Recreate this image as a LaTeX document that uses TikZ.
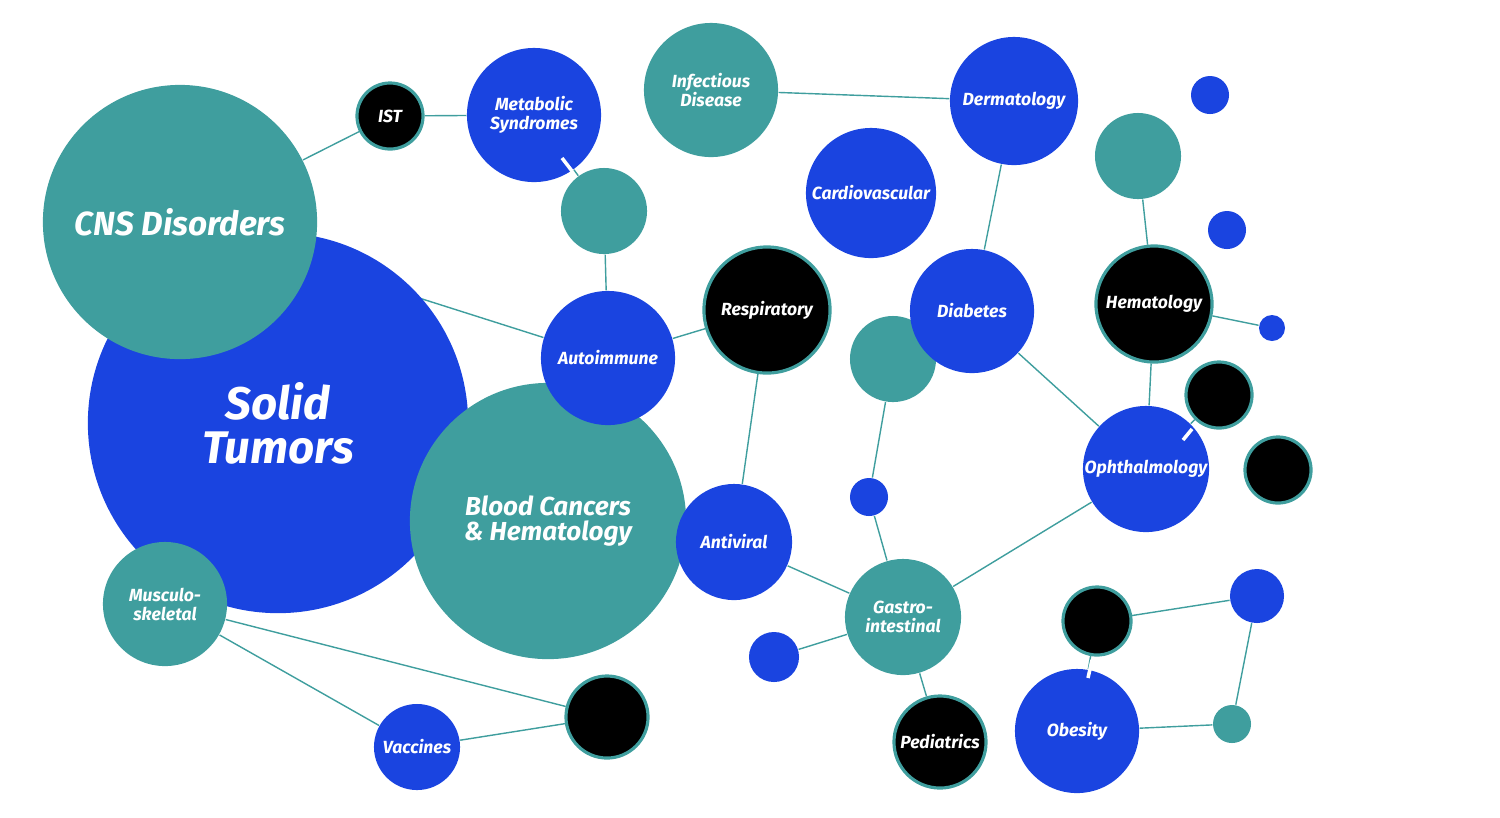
\documentclass[tikz,border=0pt]{standalone}
\usepackage{fontspec}
\setmainfont{Fira Sans}
\usetikzlibrary{backgrounds}
\definecolor{tl}{HTML}{3F9E9E}
\definecolor{bl}{HTML}{1A44E0}
\begin{document}
\begin{tikzpicture}[x=0.01cm,y=-0.01cm,
  c/.style={circle,inner sep=0pt,minimum size=#1*0.02cm,text=white,align=center,font=\fontsize{5}{5.4}\selectfont\bfseries\itshape},
  T/.style={c=#1,fill=tl},
  B/.style={c=#1,fill=bl},
  K/.style={c=#1,fill=black,draw=tl,line width=0.9pt},
  e/.style={draw=tl,line width=0.4pt},
  w/.style={draw=white,line width=1pt}]
\useasboundingbox (0,0) rectangle (1500,817);
\node[B=190,font=\fontsize{13}{12.5}\selectfont\bfseries\itshape] (solid) at (278,423) {Solid\\Tumors};
\node[T=137,font=\fontsize{9.5}{10}\selectfont\bfseries\itshape] (cns) at (180,222) {CNS Disorders};
\node[T=138,font=\fontsize{7.4}{7}\selectfont\bfseries\itshape] (blood) at (548,521) {Blood Cancers\\\& Hematology};
\node[B=67] (auto) at (608,358) {Autoimmune};
\node[T=62] (musc) at (165,604) {Musculo-\\skeletal};
\node[K=33] (ist) at (390,116) {IST};
\node[B=67] (meta) at (534,115) {Metabolic\\Syndromes};
\node[T=67] (inf) at (711,90) {Infectious\\Disease};
\node[B=64] (derm) at (1014,101) {Dermatology};
\node[B=65] (card) at (871,193) {Cardiovascular};
\node[T=43] (t1) at (604,211) {};
\node[K=63] (resp) at (767,310) {Respiratory};
\node[T=43] (t2) at (893,359) {};
\node[B=62] (diab) at (972,311) {Diabetes};
\node[T=43] (t3) at (1138,156) {};
\node[B=19] (b1) at (1210,95) {};
\node[B=19] (b2) at (1227,230) {};
\node[K=58] (hema) at (1154,304) {Hematology};
\node[B=13] (b3) at (1272,328) {};
\node[K=33] (k1) at (1219,395) {};
\node[K=33] (k2) at (1278,470) {};
\node[B=63] (oph) at (1146,469) {Ophthalmology};
\node[B=58] (anti) at (734,542) {Antiviral};
\node[B=19] (b4) at (869,497) {};
\node[T=58] (gas) at (903,617) {Gastro-\\intestinal};
\node[B=25] (b5) at (774,657) {};
\node[K=46] (ped) at (940,742) {Pediatrics};
\node[K=34] (k3) at (1097,621) {};
\node[B=27] (b6) at (1257,596) {};
\node[T=19] (t4) at (1232,724) {};
\node[B=62] (obes) at (1077,731) {Obesity};
\node[B=43] (vac) at (417,747) {Vaccines};
\node[K=41] (k4) at (607,717) {};
\begin{scope}[on background layer]
\draw[e] (cns)--(ist) (ist)--(meta) (meta)--(t1) (t1)--(auto) (inf)--(derm) (derm)--(diab)
 (cns.center)--(auto) (auto)--(resp) (resp)--(anti) (diab)--(oph) (t3)--(hema) (hema)--(b3)
 (hema)--(oph) (oph)--(k1) (oph)--(gas) (t2)--(b4) (b4)--(gas) (anti)--(gas) (gas)--(b5)
 (gas)--(ped) (k3)--(b6) (b6)--(t4) (t4)--(obes) (k3)--(obes) (musc)--(k4) (musc)--(vac) (vac)--(k4);
\end{scope}
\coordinate (w1a) at (562,158); \coordinate (w1b) at (572,171);
\coordinate (w2a) at (1183,440); \coordinate (w2b) at (1192,429);
\coordinate (w3a) at (1092,660); \coordinate (w3b) at (1088,678);
\draw[w] (w1a)--(w1b) (w2a)--(w2b) (w3a)--(w3b);
\end{tikzpicture}
\end{document}
